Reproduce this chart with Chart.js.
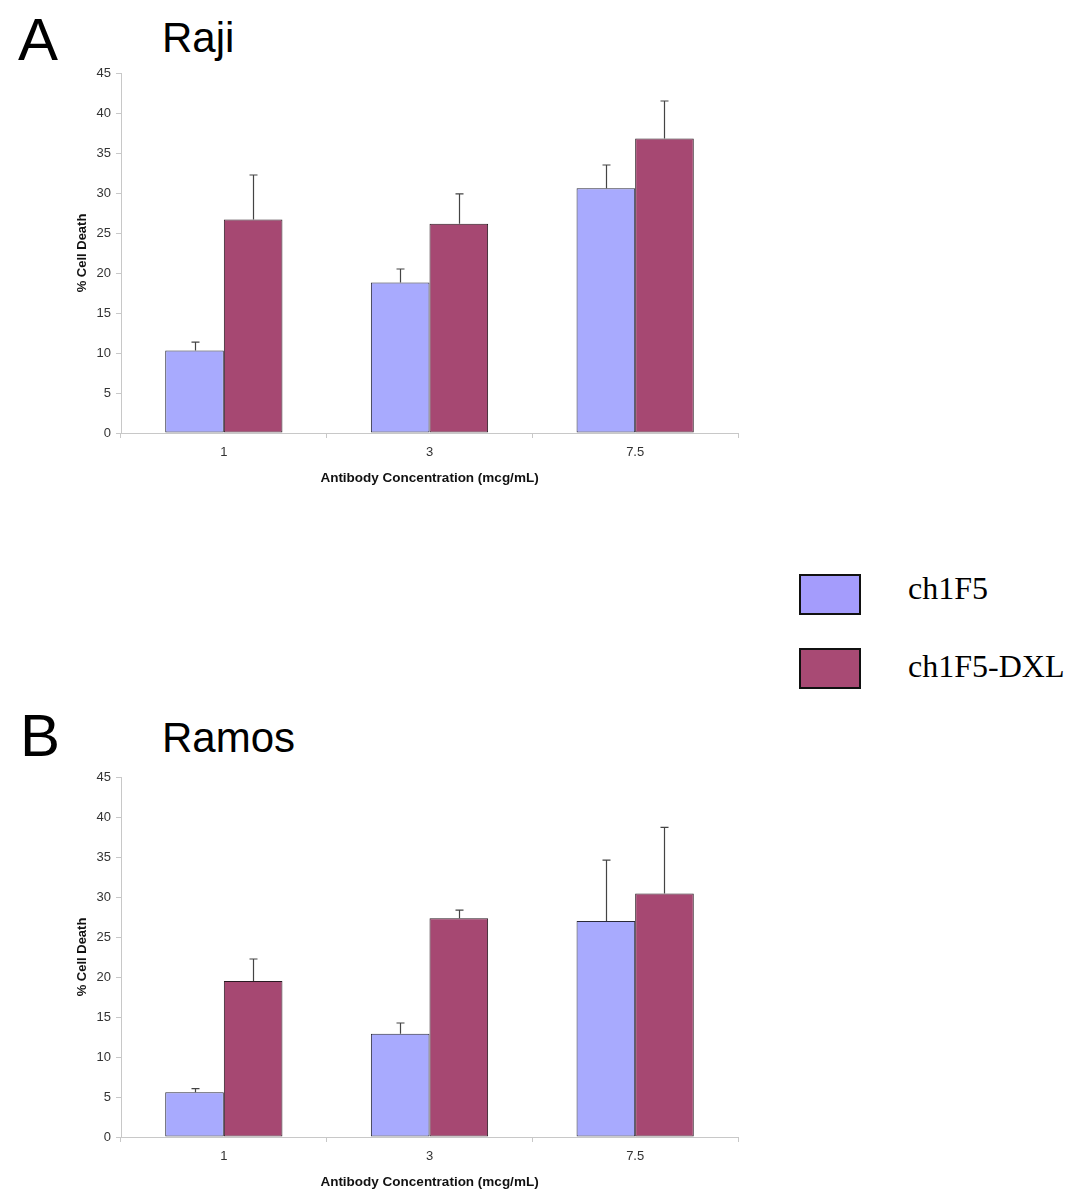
<!DOCTYPE html>
<html>
<head>
<meta charset="utf-8">
<script src="https://cdn.jsdelivr.net/npm/chart.js@4"></script>
<style>
  body { margin: 0; background: #fff; width: 1070px; height: 1193px; position: relative; overflow: hidden; }
  .abs { position: absolute; line-height: 1; white-space: nowrap; }
  .letter { font-family: "Liberation Sans", Arial, sans-serif; font-size: 60px; color: #000; }
  .name { font-family: "Liberation Sans", Arial, sans-serif; font-size: 42px; color: #000; }
  .box { position: absolute; width: 58px; height: 37px; border: 2px solid #111; }
  .leg { font-family: "Liberation Serif", "Times New Roman", serif; font-size: 32px; color: #000; }
  canvas { position: absolute; }
</style>
</head>
<body>
<div class="abs letter" style="left:18px; top:10px;">A</div>
<div class="abs name" style="left:162px; top:17px;">Raji</div>
<div class="abs letter" style="left:20px; top:706px;">B</div>
<div class="abs name" style="left:162px; top:717px;">Ramos</div>

<div class="box" style="left:799px; top:574px; background:#a49cfc;"></div>
<div class="abs leg" style="left:908px; top:572px;">ch1F5</div>
<div class="box" style="left:799px; top:648px; background:#a84a74;"></div>
<div class="abs leg" style="left:908px; top:650px;">ch1F5-DXL</div>

<div style="position:absolute; left:0; top:60px; width:760px; height:428px;"><canvas id="chartA"></canvas></div>
<div style="position:absolute; left:0; top:764px; width:760px; height:428px;"><canvas id="chartB"></canvas></div>

<script>
const categories = ['1', '3', '7.5'];
const seriesNames = ['ch1F5', 'ch1F5-DXL'];

// Raji
const rajiCh1F5 = [10.3, 18.8, 30.6];
const rajiCh1F5Err = [1.05, 1.7, 2.9];
const rajiDxl = [26.7, 26.15, 36.8];
const rajiDxlErr = [5.55, 3.75, 4.7];

// Ramos
const ramosCh1F5 = [5.6, 12.9, 27.0];
const ramosCh1F5Err = [0.45, 1.35, 7.6];
const ramosDxl = [19.5, 27.35, 30.45];
const ramosDxlErr = [2.75, 1.0, 8.25];

const blue = '#a8aafe';
const red = '#a64872';

// рисуем усы погрешностей (только вверх)
const errorBars = {
    id: 'errorBars',
    afterDatasetsDraw(chart) {
        const ctx = chart.ctx;
        const yScale = chart.scales.y;
        chart.data.datasets.forEach((ds, i) => {
            const meta = chart.getDatasetMeta(i);
            meta.data.forEach((bar, j) => {
                const top = yScale.getPixelForValue(ds.data[j] + ds.errors[j]);
                const x = Math.round(bar.x) + 0.5;
                ctx.save();
                ctx.strokeStyle = '#444';
                ctx.lineWidth = 1.2;
                ctx.beginPath();
                ctx.moveTo(x, bar.y);
                ctx.lineTo(x, top);
                ctx.moveTo(x - 4, top);
                ctx.lineTo(x + 4, top);
                ctx.stroke();
                ctx.restore();
            });
        });
    }
};

function createChart(canvasId, values1, errors1, values2, errors2) {
    const chartContainer = document.querySelector(canvasId);
    return new Chart(chartContainer, {
        type: 'bar',
        data: {
            labels: categories,
            datasets: [
                { label: seriesNames[0], data: values1, errors: errors1, backgroundColor: blue,
                  borderColor: '#2a2a3a', borderWidth: 1, borderSkipped: false },
                { label: seriesNames[1], data: values2, errors: errors2, backgroundColor: red,
                  borderColor: '#2a1a22', borderWidth: 1, borderSkipped: false },
            ]
        },
        options: {
            responsive: true,
            maintainAspectRatio: false,
            animation: false,
            datasets: { bar: { barPercentage: 1, categoryPercentage: 0.57 } },
            layout: { padding: { left: 0, right: 22, top: 13, bottom: 0 } },
            plugins: { legend: { display: false }, tooltip: { enabled: false } },
            scales: {
                x: {
                    grid: { offset: true, drawOnChartArea: false, tickLength: 5, color: '#c8c8c8' },
                    border: { color: '#c8c8c8' },
                    ticks: { color: '#333', font: { family: 'Liberation Sans', size: 13 }, padding: 7 },
                    title: { display: true, text: 'Antibody Concentration (mcg/mL)', color: '#111',
                             font: { family: 'Liberation Sans', size: 13.5, weight: 'bold' },
                             padding: { top: 0, bottom: 2 } },
                    afterFit(scale) { scale.height = 55; }
                },
                y: {
                    min: 0, max: 45,
                    grid: { drawOnChartArea: false, tickLength: 5, color: '#c8c8c8' },
                    border: { color: '#c8c8c8' },
                    ticks: { stepSize: 5, color: '#333', font: { family: 'Liberation Sans', size: 13 }, padding: 5 },
                    title: { display: true, text: '% Cell Death', color: '#111',
                             font: { family: 'Liberation Sans', size: 13, weight: 'bold' },
                             padding: { top: 75, bottom: 0 } },
                    afterFit(scale) { scale.width = 121; }
                }
            }
        },
        plugins: [errorBars]
    });
}

createChart('#chartA', rajiCh1F5, rajiCh1F5Err, rajiDxl, rajiDxlErr);
createChart('#chartB', ramosCh1F5, ramosCh1F5Err, ramosDxl, ramosDxlErr);
</script>
</body>
</html>
